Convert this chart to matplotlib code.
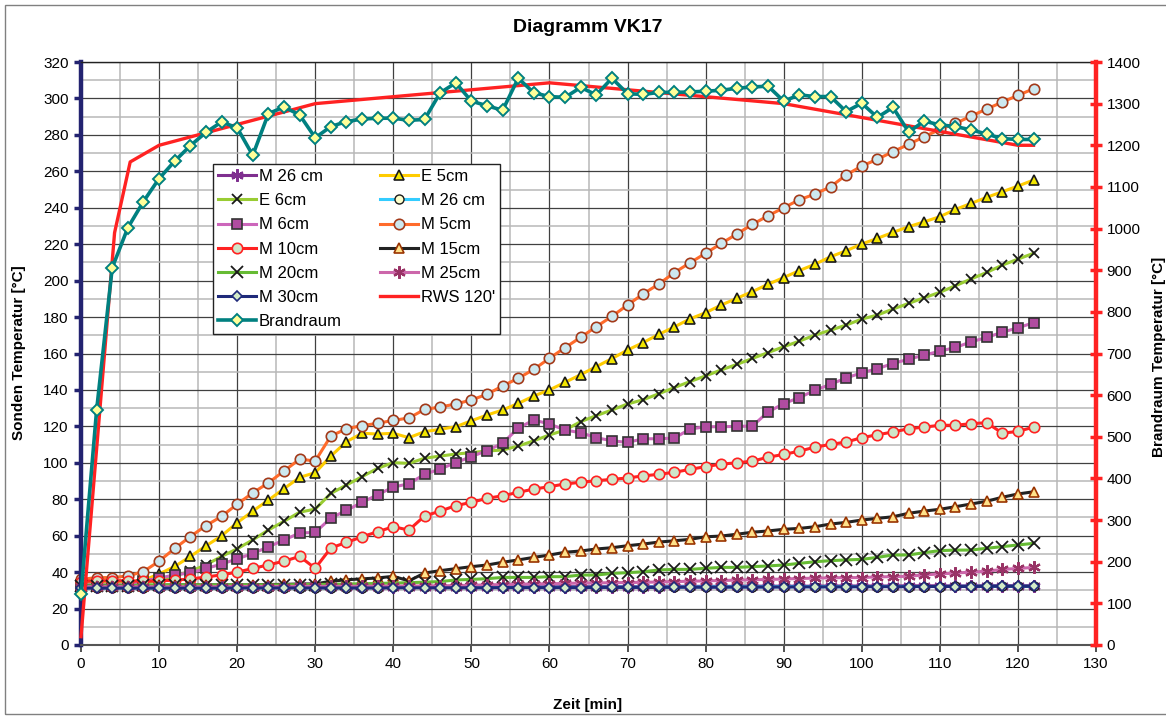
import matplotlib
matplotlib.use("Agg")
import matplotlib.pyplot as plt
from matplotlib.patches import Rectangle

plt.rcParams['font.family'] = ['Liberation Sans', 'DejaVu Sans']

# Zeit [min]
zeit = [0, 2, 4, 6, 8, 10, 12, 14, 16, 18,
        20, 22, 24, 26, 28, 30, 32, 34, 36, 38,
        40, 42, 44, 46, 48, 50, 52, 54, 56, 58,
        60, 62, 64, 66, 68, 70, 72, 74, 76, 78,
        80, 82, 84, 86, 88, 90, 92, 94, 96, 98,
        100, 102, 104, 106, 108, 110, 112, 114, 116, 118,
        120, 122]

# Sonden (linke Achse)
m26a = [32.0, 31.8, 31.8, 31.8, 31.8, 31.8, 31.8, 31.8, 31.8, 31.8,
        31.8, 31.9, 31.9, 31.9, 31.9, 31.9, 31.9, 31.9, 31.9, 31.9,
        32.0, 32.0, 32.0, 32.0, 32.0, 32.0, 32.0, 32.0, 32.0, 32.0,
        32.0, 32.1, 32.1, 32.1, 32.1, 32.1, 32.1, 32.1, 32.2, 32.2,
        32.2, 32.2, 32.2, 32.3, 32.3, 32.3, 32.3, 32.3, 32.4, 32.4,
        32.4, 32.4, 32.4, 32.5, 32.5, 32.5, 32.5, 32.5, 32.6, 32.6,
        32.6, 32.6]
e5 = [34.5, 34.5, 34.5, 34.5, 35.5, 39, 43.1, 48.6, 54.4, 59.9,
      67.1, 73.5, 79.5, 85.8, 92, 94.6, 103.7, 111.6, 116.2, 115.8,
      116.2, 113.8, 117.1, 118.4, 119.8, 123.1, 126.2, 129, 132.6, 136.7,
      140, 144.2, 148.4, 152.8, 157.2, 161.9, 166, 170.5, 174.6, 179,
      182.4, 186.6, 190.3, 194, 198, 201.7, 205.5, 209, 213.1, 216.4,
      220.1, 223.2, 226.5, 229.6, 232.3, 235.1, 239.1, 242.4, 245.7, 248.8,
      251.9, 255.2]
e6 = [33.5, 33.5, 33.5, 33.5, 34, 35.5, 38, 40.4, 44, 48.6,
      52.8, 57.7, 63.1, 67.9, 72.9, 74.6, 83.2, 87.8, 92.4, 97,
      100.1, 99.7, 102.5, 103.7, 104.8, 105.6, 106.5, 107, 109.2, 112.1,
      115.3, 118, 122.6, 125.9, 129, 132.3, 134.6, 137.9, 141.3, 144.6,
      147.7, 151, 154, 157.3, 160.5, 163.7, 166.8, 170.1, 172.8, 175.6,
      178.9, 181.1, 184.4, 187.5, 190.6, 193.6, 197.2, 200.9, 204.5, 208.5,
      211.8, 215]
m26b = [31.4, 31.4, 31.4, 31.4, 31.4, 31.4, 31.4, 31.4, 31.4, 31.4,
        31.5, 31.5, 31.5, 31.5, 31.5, 31.5, 31.5, 31.5, 31.5, 31.5,
        31.6, 31.6, 31.6, 31.6, 31.6, 31.6, 31.6, 31.6, 31.7, 31.7,
        31.7, 31.7, 31.7, 31.7, 31.8, 31.8, 31.8, 31.8, 31.8, 31.8,
        31.9, 31.9, 31.9, 31.9, 31.9, 32.0, 32.0, 32.0, 32.0, 32.0,
        32.0, 32.1, 32.1, 32.1, 32.1, 32.1, 32.2, 32.2, 32.2, 32.2,
        32.2, 32.2]
m6 = [33, 33, 33, 33, 35.3, 36.7, 38.5, 39.6, 42, 44.4,
      47.3, 50.2, 53.9, 57.6, 61.5, 61.8, 69.7, 73.9, 78.3, 82.5,
      86.7, 88.5, 93.7, 96.6, 100.1, 103.4, 106.7, 110.7, 119.1, 123.5,
      121.3, 118, 116.5, 113.8, 112.1, 111.2, 113.2, 113.2, 113.6, 118.5,
      119.8, 119.8, 120, 120.2, 127.9, 132.5, 135.8, 139.8, 143.1, 146.6,
      149.4, 151.7, 154.5, 156.9, 159.1, 161.3, 163.3, 166.4, 168.8, 171.7,
      174.1, 176.9]
m5 = [36, 37, 37, 37.9, 40.3, 46, 53, 59.5, 65.5, 70.6,
      77.3, 83.5, 89, 95.5, 102, 101, 114.7, 118.7, 120.4, 121.7,
      123.3, 124.6, 129.3, 130.6, 132.3, 134.5, 137.6, 142.2, 146.4, 151.3,
      157.4, 163.2, 168.9, 174.7, 180.4, 186.6, 192.7, 198.1, 204.4, 209.8,
      215, 220.4, 225.6, 230.9, 235.6, 240, 244.4, 247.5, 251.5, 258,
      262.9, 266.6, 270.8, 274.8, 279, 283, 286.3, 290.3, 294.2, 298,
      301.7, 305.3]
m10 = [34.8, 35.3, 35.3, 35.3, 35, 35.2, 35.6, 36.2, 37.3, 38.5,
       40, 42, 44, 46, 48.6, 42.1, 53.3, 56.3, 59.4, 62.2,
       64.9, 63.1, 70.8, 73.5, 76.5, 78.3, 80.5, 81.9, 83.8, 85.6,
       86.9, 88.4, 89.3, 90.2, 90.9, 91.7, 92.8, 93.7, 94.8, 96.4,
       97.9, 99.3, 100, 100.9, 103.1, 104.6, 106.4, 108.6, 110.1, 111.4,
       113.8, 115.4, 116.9, 118.7, 119.6, 120.6, 120.6, 121.5, 122, 116.3,
       117.2, 119.6]
m15 = [32.5, 32.5, 32.5, 32.5, 32.5, 32.8, 33, 33, 33, 33,
       33, 33, 33.2, 33.3, 33.5, 33.5, 35, 35.8, 36.3, 36.8,
       37.7, 35.2, 39.5, 40.8, 41.9, 43, 43.9, 45.4, 46.7, 48.1,
       49.4, 50.9, 51.6, 52.7, 53.4, 54.5, 55.4, 56.5, 57.2, 58,
       59.4, 59.8, 60.8, 61.9, 62.6, 63.5, 64, 64.9, 66.4, 67.3,
       68.6, 69.5, 70.4, 72.3, 73.5, 74.5, 75.9, 77.4, 78.9, 81.1,
       82.9, 84.1]
m20 = [32.5, 32.5, 32.5, 32.5, 33, 33, 33, 33, 33, 33,
       33, 33, 33, 33, 33.2, 33.2, 33.3, 33.5, 33.6, 33.8,
       34, 34.2, 34.5, 34.8, 35.7, 36.0, 36.4, 37.1, 37.1, 37.1,
       37.5, 37.5, 38.4, 38.4, 39.3, 39.7, 40.2, 41.2, 41.5, 41.5,
       42.1, 42.6, 42.6, 43.0, 43.4, 43.9, 44.8, 45.7, 46.3, 46.7,
       47.0, 48.1, 49.4, 49.4, 50.7, 51.8, 52.1, 52.1, 53.1, 54.0,
       54.9, 55.8]
m25 = [32, 32, 32, 32, 32, 32, 32, 32, 32, 32,
       32.1, 32.1, 32.1, 32.1, 32.2, 32.2, 32.2, 32.2, 32.3, 32.3,
       32.3, 32.4, 32.4, 32.5, 32.6, 32.8, 33, 33.2, 33.4, 33.5,
       33.6, 33.8, 34, 34.1, 34.2, 34.3, 34.4, 34.6, 34.8, 35,
       35.2, 35.4, 35.6, 35.8, 36, 36.2, 36.5, 36.7, 36.9, 37,
       37, 37.4, 37.5, 37.7, 38.5, 39, 39.5, 40, 40.5, 41.5,
       42, 42.6]
m30 = [31.2, 31.2, 31.2, 31.2, 31.2, 31.2, 31.2, 31.2, 31.2, 31.2,
       31.3, 31.3, 31.3, 31.3, 31.3, 31.3, 31.3, 31.3, 31.3, 31.3,
       31.4, 31.4, 31.4, 31.4, 31.4, 31.4, 31.4, 31.5, 31.5, 31.5,
       31.5, 31.5, 31.5, 31.6, 31.6, 31.6, 31.6, 31.6, 31.7, 31.7,
       31.7, 31.7, 31.8, 31.8, 31.8, 31.8, 31.9, 31.9, 31.9, 31.9,
       32.0, 32.0, 32.0, 32.0, 32.1, 32.1, 32.1, 32.1, 32.2, 32.2,
       32.2, 32.2]

# Brandraum (rechte Achse)
rws_zeit = [0, 4.3, 6.3, 10, 30, 60, 90, 120, 122]
rws_temp = [20, 990, 1160, 1200, 1300, 1350, 1300, 1200, 1200]
brandraum = [122, 564, 906, 1002, 1065, 1120, 1162, 1199, 1231, 1256,
             1242, 1176, 1276, 1292, 1273, 1218, 1245, 1257, 1263, 1265,
             1265, 1260, 1262, 1326, 1350, 1306, 1295, 1284, 1361, 1326,
             1317, 1315, 1339, 1321, 1361, 1324, 1322, 1327, 1327, 1328,
             1330, 1332, 1337, 1340, 1342, 1306, 1321, 1317, 1317, 1281,
             1301, 1267, 1291, 1232, 1258, 1249, 1245, 1237, 1227, 1216,
             1214, 1214]

W, H = 1166, 719
fig = plt.figure(figsize=(W / 100, H / 100), dpi=100)
ax = fig.add_axes([81 / W, 74 / H, 1015 / W, 583 / H])
ax2 = ax.twinx()

lw = 2.2
kw = dict(lw=lw, clip_on=False)

# Reihenfolge wie in Excel (spaetere Reihen liegen oben)
h_m26a, = ax.plot(zeit, m26a, color='#7f2f8f', marker=(6, 2, 0), ms=9,
                  mec='#7f2f8f', mew=1.6, label='M 26 cm', **kw)
h_e5, = ax.plot(zeit, e5, color='#ffcc00', marker='^', ms=7.5,
                mfc='#f2e600', mec='#1a1a1a', mew=1.2, label='E 5cm', **kw)
h_e6, = ax.plot(zeit, e6, color='#99cc33', marker='x', ms=7.5,
                mec='#1a1a1a', mew=1.3, label='E 6cm', **kw)
h_m26b, = ax.plot(zeit, m26b, color='#33ccff', marker='o', ms=6.5,
                  mfc='#ffffcc', mec='#1a1a1a', mew=1.0, label='M 26 cm', **kw)
h_m6, = ax.plot(zeit, m6, color='#cc66bb', marker='s', ms=7,
                mfc='#b04ca0', mec='#333333', mew=1.2, label='M 6cm', **kw)
h_m5, = ax.plot(zeit, m5, color='#ff6b2b', marker='o', ms=7.5,
                mfc='#cde8ef', mec='#a33a1a', mew=1.2, label='M 5cm', **kw)
h_m10, = ax.plot(zeit, m10, color='#ff2222', marker='o', ms=7.5,
                 mfc='#cfe5c8', mec='#ff2222', mew=1.2, label='M 10cm', **kw)
h_m15, = ax.plot(zeit, m15, color='#222222', marker='^', ms=7.5,
                 mfc='#ffe28a', mec='#993300', mew=1.2, label='M 15cm', **kw)
h_m20, = ax.plot(zeit, m20, color='#66bb33', marker='x', ms=8,
                 mec='#1a1a1a', mew=1.3, label='M 20cm', **kw)
h_m25, = ax.plot(zeit, m25, color='#cc66aa', marker=(6, 2, 0), ms=9,
                 mec='#993366', mew=1.6, label='M 25cm', **kw)
h_m30, = ax.plot(zeit, m30, color='#1f2a7a', marker='D', ms=5,
                 mfc='#d4ecc8', mec='#1f2a7a', mew=1.2, label='M 30cm', **kw)

h_rws, = ax2.plot(rws_zeit, rws_temp, color='#ff2222', lw=2.4,
                  label="RWS 120'", clip_on=False)
h_br, = ax2.plot(zeit, brandraum, color='#008080', lw=2.6, marker='D', ms=6,
                 mfc='#ffff99', mec='#008080', mew=1.4, label='Brandraum',
                 clip_on=False)

# Achsen
ax.set_xlim(0, 130)
ax.set_ylim(0, 320)
ax2.set_ylim(0, 1400)
ax.set_xticks(range(0, 131, 10))
ax.set_xticks(range(5, 130, 10), minor=True)
ax.set_yticks(range(0, 321, 20))
ax.set_yticks(range(10, 320, 20), minor=True)
ax2.set_yticks(range(0, 1401, 100))

ax.grid(which='major', color='#404040', lw=0.9)
ax.grid(which='minor', color='#b8b8b8', lw=1.1)
ax.set_axisbelow(True)

ax.tick_params(axis='x', which='major', direction='out', length=5, width=1.2,
               color='#333333', labelsize=11, pad=4)
ax.tick_params(axis='y', which='major', direction='out', length=5, width=2.5,
               color='#232370', labelsize=11, pad=4)
ax.tick_params(which='minor', length=0)
ax2.tick_params(axis='y', direction='inout', length=9, width=2.5,
                color='#ff2222', labelsize=11, pad=3)

ax.spines['left'].set_color('#232370')
ax.spines['left'].set_linewidth(3.2)
ax.spines['right'].set_visible(False)
ax.spines['top'].set_color('#222222')
ax.spines['top'].set_linewidth(1.0)
ax.spines['bottom'].set_color('#555555')
ax.spines['bottom'].set_linewidth(1.5)
ax2.spines['right'].set_color('#ff2222')
ax2.spines['right'].set_linewidth(3.2)
for s in ['left', 'top', 'bottom']:
    ax2.spines[s].set_visible(False)

# Texte
fig.text(588 / W, 1 - 27 / H, 'Diagramm VK17', ha='center', va='center',
         fontsize=14, fontweight='bold')
fig.text(588 / W, 1 - 705 / H, 'Zeit [min]', ha='center', va='center',
         fontsize=11, fontweight='bold')
fig.text(19 / W, 1 - 353 / H, 'Sonden Temperatur [°C]', ha='center',
         va='center', rotation=90, fontsize=11, fontweight='bold')
fig.text(1159 / W, 1 - 357 / H, 'Brandraum Temperatur [°C]', ha='center',
         va='center', rotation=90, fontsize=11, fontweight='bold')

# Legende (Excel fuellt zeilenweise, matplotlib spaltenweise)
handles = [h_m26a, h_e6, h_m6, h_m10, h_m20, h_m30, h_br,
           h_e5, h_m26b, h_m5, h_m15, h_m25, h_rws]
leg = ax2.legend(handles=handles, labels=[h.get_label() for h in handles],
                 ncol=2, loc='upper left', bbox_to_anchor=(213 / W, 1 - 164 / H),
                 bbox_transform=fig.transFigure, fontsize=12, frameon=True,
                 fancybox=False, edgecolor='#222222', framealpha=1,
                 handlelength=2.3, handletextpad=0.15, columnspacing=2.3,
                 labelspacing=0.55, borderpad=0.3, borderaxespad=0)
leg.get_frame().set_linewidth(1.0)
leg.set_zorder(20)

# Rahmen des Diagrammbereichs
fig.patches.append(Rectangle((5 / W, 5 / H), 1180 / W, 709 / H,
                             transform=fig.transFigure, fill=False,
                             edgecolor='#808080', lw=1.0))

fig.savefig('out.png', dpi=100)
